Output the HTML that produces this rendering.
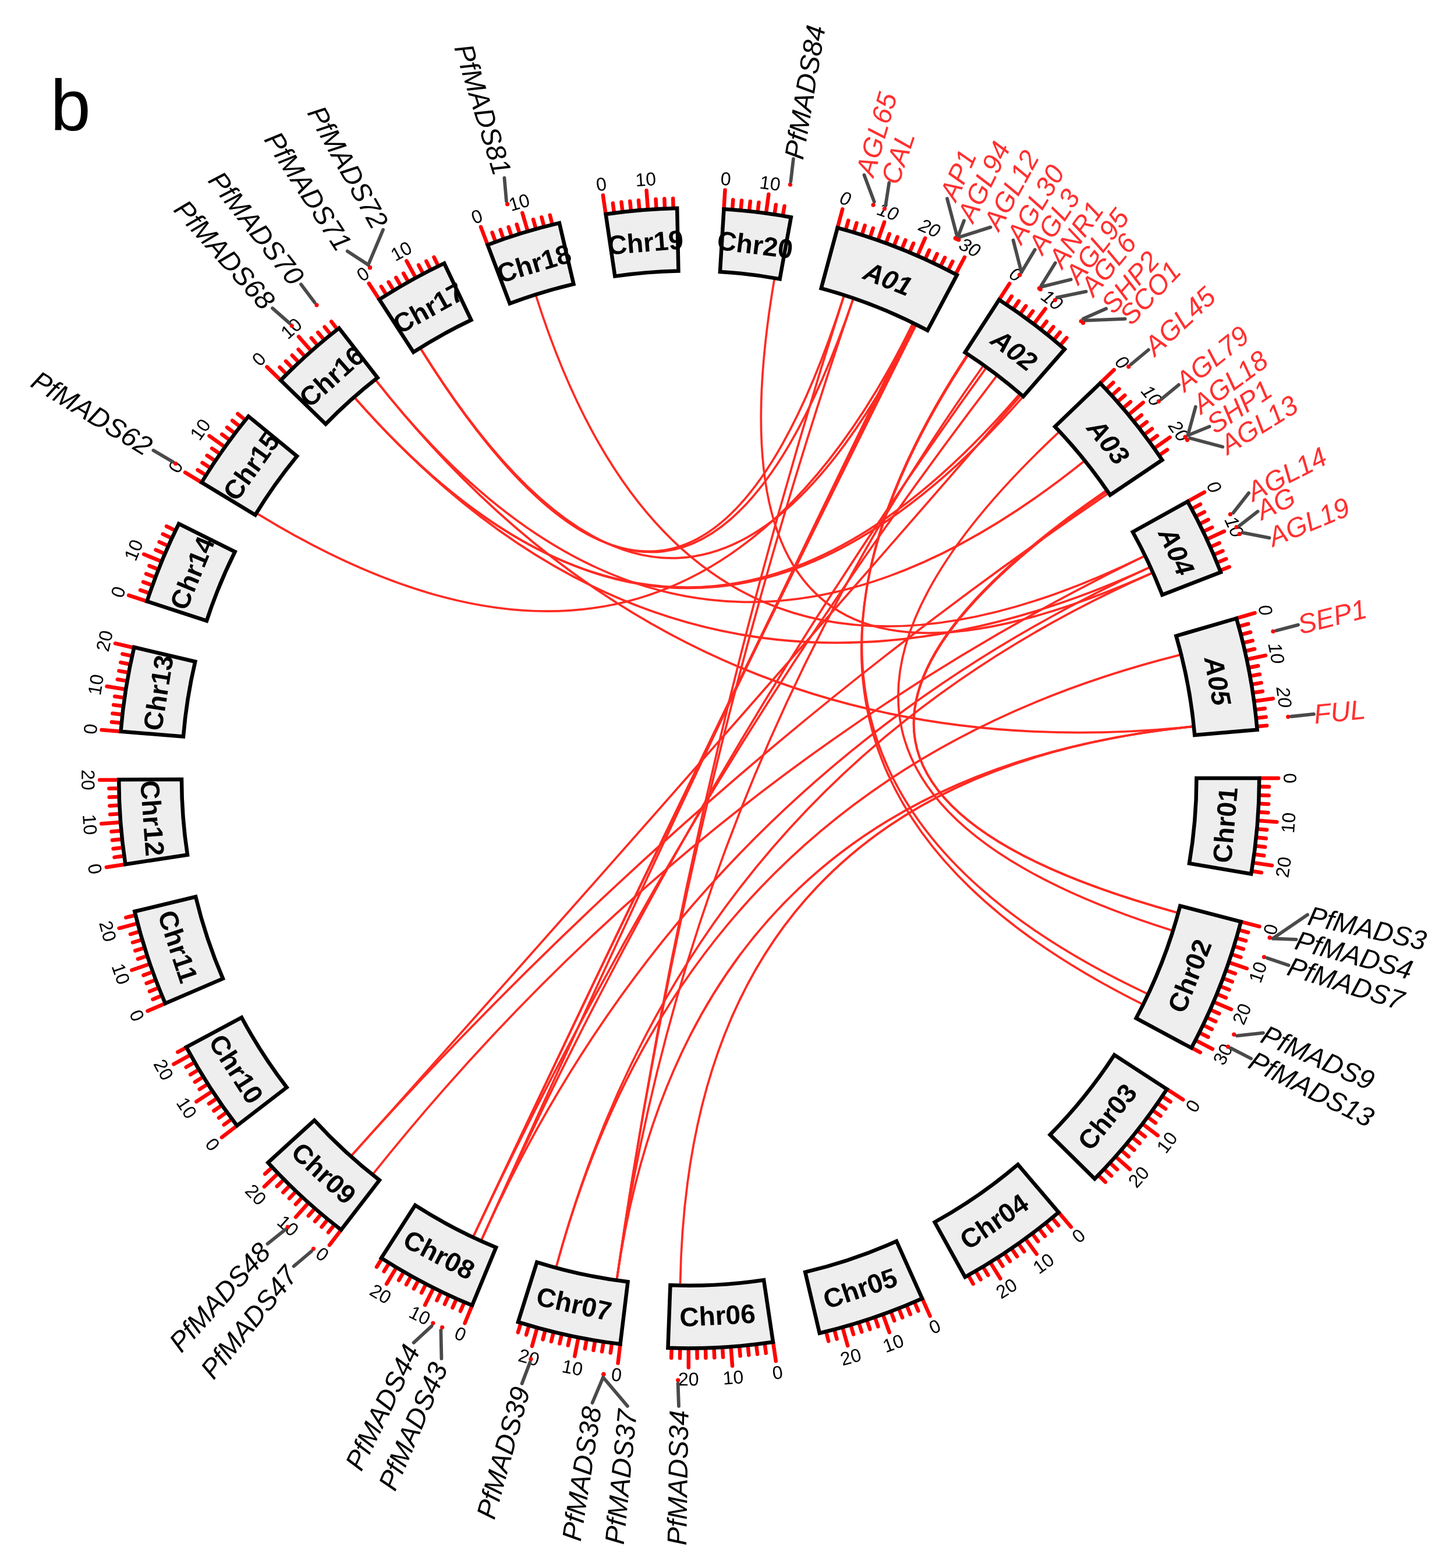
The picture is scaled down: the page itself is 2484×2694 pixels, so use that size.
<!DOCTYPE html>
<html lang="en"><head><meta charset="utf-8"><title>b</title>
<style>html,body{margin:0;padding:0;background:#fff}svg{display:block}</style></head>
<body>
<svg width="2484" height="2694" viewBox="0 0 2484 2694" role="img" aria-label="Circos plot b">
<rect width="2484" height="2694" fill="#fff"/>
<g fill="none" stroke="#ff2a22" stroke-width="3.7" stroke-linecap="butt">
<path d="M1168.54 2205.57Q1183.7 1337 2047.88 1248.46"/>
<path d="M1059.8 2196.82Q1183.7 1337 2047.88 1248.46"/>
<path d="M646.49 654.33Q1183.7 1337 2047.88 1248.46"/>
<path d="M955.94 2175.31Q1183.7 1337 2026.23 1125.37"/>
<path d="M921.03 508.96Q1183.7 1337 1964.48 956.19"/>
<path d="M610.36 684.38Q1183.7 1337 1973.55 975.38"/>
<path d="M1330.07 480.72Q1183.7 1337 1977.91 985.05"/>
<path d="M641.74 2015.91Q1183.7 1337 1964.48 956.19"/>
<path d="M827.6 2129.36Q1183.7 1337 1973.55 975.38"/>
<path d="M955.94 2175.31Q1183.7 1337 1977.91 985.05"/>
<path d="M2012.19 1598.22Q1183.7 1337 1817.99 743.44"/>
<path d="M646.49 654.33Q1183.7 1337 1861.19 793.26"/>
<path d="M2021.21 1567.69Q1183.7 1337 1898.76 843.71"/>
<path d="M2021.21 1567.69Q1183.7 1337 1900.05 845.59"/>
<path d="M604.68 1984.6Q1183.7 1337 1902.18 848.72"/>
<path d="M1969.72 1706.87Q1183.7 1337 1660.64 610.93"/>
<path d="M1961.13 1724.61Q1183.7 1337 1661.9 611.77"/>
<path d="M1059.8 2196.82Q1183.7 1337 1688.16 629.78"/>
<path d="M827.6 2129.36Q1183.7 1337 1693.08 633.32"/>
<path d="M813.83 2123.02Q1183.7 1337 1711.33 646.89"/>
<path d="M610.36 684.38Q1183.7 1337 1750.18 678.41"/>
<path d="M604.68 1984.6Q1183.7 1337 1752.47 680.39"/>
<path d="M610.36 684.38Q1183.7 1337 1755.9 683.38"/>
<path d="M723.36 600.3Q1183.7 1337 1449.26 509.89"/>
<path d="M723.36 600.3Q1183.7 1337 1465.09 515.14"/>
<path d="M1059.8 2196.82Q1183.7 1337 1449.26 509.89"/>
<path d="M1059.8 2196.82Q1183.7 1337 1465.09 515.14"/>
<path d="M443.01 883.11Q1183.7 1337 1567.24 557.55"/>
<path d="M723.36 600.3Q1183.7 1337 1572.67 560.25"/>
<path d="M827.6 2129.36Q1183.7 1337 1567.24 557.55"/>
<path d="M813.83 2123.02Q1183.7 1337 1569.95 558.9"/>
<path d="M813.83 2123.02Q1183.7 1337 1572.67 560.25"/>
</g>
<g stroke="#ff0000" stroke-width="6.5" stroke-linecap="round">
<line x1="2163.2" y1="1337" x2="2196.2" y2="1337"/>
<line x1="2163.09" y1="1351.56" x2="2180.09" y2="1351.82"/>
<line x1="2162.77" y1="1366.13" x2="2179.76" y2="1366.63"/>
<line x1="2162.23" y1="1380.68" x2="2179.21" y2="1381.44"/>
<line x1="2161.47" y1="1395.23" x2="2178.44" y2="1396.24"/>
<line x1="2160.49" y1="1409.76" x2="2193.4" y2="1412.21"/>
<line x1="2159.3" y1="1424.28" x2="2176.24" y2="1425.79"/>
<line x1="2157.9" y1="1438.77" x2="2174.81" y2="1440.54"/>
<line x1="2156.28" y1="1453.25" x2="2173.16" y2="1455.27"/>
<line x1="2154.44" y1="1467.7" x2="2171.29" y2="1469.97"/>
<line x1="2152.39" y1="1482.12" x2="2185.03" y2="1487.01"/>
<line x1="2150.13" y1="1496.51" x2="2166.9" y2="1499.27"/>
<line x1="2131.66" y1="1583.57" x2="2163.59" y2="1591.88"/>
<line x1="2127.89" y1="1597.64" x2="2144.27" y2="1602.16"/>
<line x1="2123.91" y1="1611.65" x2="2140.22" y2="1616.42"/>
<line x1="2119.72" y1="1625.6" x2="2135.96" y2="1630.61"/>
<line x1="2115.32" y1="1639.49" x2="2131.49" y2="1644.74"/>
<line x1="2110.72" y1="1653.31" x2="2141.95" y2="1663.96"/>
<line x1="2105.92" y1="1667.06" x2="2121.92" y2="1672.78"/>
<line x1="2100.91" y1="1680.73" x2="2116.83" y2="1686.7"/>
<line x1="2095.69" y1="1694.33" x2="2111.52" y2="1700.53"/>
<line x1="2090.28" y1="1707.85" x2="2106.01" y2="1714.29"/>
<line x1="2084.67" y1="1721.29" x2="2115.02" y2="1734.24"/>
<line x1="2078.85" y1="1734.65" x2="2094.39" y2="1741.55"/>
<line x1="2072.84" y1="1747.92" x2="2088.27" y2="1755.05"/>
<line x1="2066.63" y1="1761.09" x2="2081.95" y2="1768.45"/>
<line x1="2060.23" y1="1774.17" x2="2075.44" y2="1781.76"/>
<line x1="2053.63" y1="1787.16" x2="2082.94" y2="1802.32"/>
<line x1="2046.84" y1="1800.04" x2="2061.82" y2="1808.08"/>
<line x1="2004.62" y1="1871.33" x2="2032.28" y2="1889.34"/>
<line x1="1996.58" y1="1883.48" x2="2010.69" y2="1892.97"/>
<line x1="1988.37" y1="1895.51" x2="2002.33" y2="1905.2"/>
<line x1="1979.97" y1="1907.41" x2="1993.79" y2="1917.31"/>
<line x1="1971.4" y1="1919.19" x2="1985.07" y2="1929.29"/>
<line x1="1962.66" y1="1930.84" x2="1988.9" y2="1950.84"/>
<line x1="1953.74" y1="1942.35" x2="1967.11" y2="1952.86"/>
<line x1="1944.66" y1="1953.74" x2="1957.86" y2="1964.44"/>
<line x1="1935.4" y1="1964.99" x2="1948.45" y2="1975.88"/>
<line x1="1925.98" y1="1976.09" x2="1938.86" y2="1987.19"/>
<line x1="1916.4" y1="1987.06" x2="1941.08" y2="2008.96"/>
<line x1="1906.65" y1="1997.88" x2="1919.2" y2="2009.35"/>
<line x1="1896.74" y1="2008.56" x2="1909.12" y2="2020.22"/>
<line x1="1886.68" y1="2019.09" x2="1898.88" y2="2030.93"/>
<line x1="1818.53" y1="2082.93" x2="1839.92" y2="2108.06"/>
<line x1="1807.37" y1="2092.28" x2="1818.2" y2="2105.39"/>
<line x1="1796.07" y1="2101.47" x2="1806.7" y2="2114.74"/>
<line x1="1784.64" y1="2110.5" x2="1795.07" y2="2123.92"/>
<line x1="1773.07" y1="2119.35" x2="1783.3" y2="2132.92"/>
<line x1="1761.37" y1="2128.02" x2="1780.83" y2="2154.67"/>
<line x1="1749.54" y1="2136.53" x2="1759.36" y2="2150.4"/>
<line x1="1737.59" y1="2144.85" x2="1747.21" y2="2158.87"/>
<line x1="1725.52" y1="2153" x2="1734.92" y2="2167.16"/>
<line x1="1713.33" y1="2160.96" x2="1722.52" y2="2175.26"/>
<line x1="1701.02" y1="2168.75" x2="1718.44" y2="2196.77"/>
<line x1="1688.59" y1="2176.35" x2="1697.35" y2="2190.92"/>
<line x1="1676.05" y1="2183.76" x2="1684.6" y2="2198.46"/>
<line x1="1663.41" y1="2190.99" x2="1671.73" y2="2205.81"/>
<line x1="1584.13" y1="2230.91" x2="1597.62" y2="2261.03"/>
<line x1="1570.79" y1="2236.77" x2="1577.51" y2="2252.38"/>
<line x1="1557.37" y1="2242.42" x2="1563.85" y2="2258.14"/>
<line x1="1543.86" y1="2247.88" x2="1550.12" y2="2263.69"/>
<line x1="1530.28" y1="2253.13" x2="1536.3" y2="2269.03"/>
<line x1="1516.62" y1="2258.19" x2="1527.84" y2="2289.22"/>
<line x1="1502.88" y1="2263.04" x2="1508.42" y2="2279.11"/>
<line x1="1489.08" y1="2267.68" x2="1494.38" y2="2283.83"/>
<line x1="1475.21" y1="2272.12" x2="1480.27" y2="2288.35"/>
<line x1="1461.27" y1="2276.35" x2="1466.09" y2="2292.65"/>
<line x1="1447.27" y1="2280.37" x2="1456.15" y2="2312.15"/>
<line x1="1433.21" y1="2284.19" x2="1437.55" y2="2300.63"/>
<line x1="1419.1" y1="2287.79" x2="1423.19" y2="2304.29"/>
<line x1="1327.97" y1="2305.82" x2="1332.83" y2="2338.46"/>
<line x1="1313.55" y1="2307.85" x2="1315.8" y2="2324.7"/>
<line x1="1299.1" y1="2309.68" x2="1301.1" y2="2326.56"/>
<line x1="1284.62" y1="2311.29" x2="1286.37" y2="2328.2"/>
<line x1="1270.12" y1="2312.68" x2="1271.62" y2="2329.61"/>
<line x1="1255.61" y1="2313.86" x2="1258.03" y2="2346.77"/>
<line x1="1241.07" y1="2314.82" x2="1242.07" y2="2331.79"/>
<line x1="1226.53" y1="2315.56" x2="1227.27" y2="2332.55"/>
<line x1="1211.97" y1="2316.09" x2="1212.46" y2="2333.08"/>
<line x1="1197.41" y1="2316.4" x2="1197.65" y2="2333.4"/>
<line x1="1182.85" y1="2316.5" x2="1182.82" y2="2349.5"/>
<line x1="1168.28" y1="2316.38" x2="1168.01" y2="2333.38"/>
<line x1="1153.72" y1="2316.04" x2="1153.2" y2="2333.03"/>
<line x1="1065.52" y1="2309.34" x2="1061.54" y2="2342.1"/>
<line x1="1051.07" y1="2307.48" x2="1048.77" y2="2324.32"/>
<line x1="1036.66" y1="2305.4" x2="1034.1" y2="2322.21"/>
<line x1="1022.27" y1="2303.11" x2="1019.47" y2="2319.87"/>
<line x1="1007.92" y1="2300.6" x2="1004.87" y2="2317.32"/>
<line x1="993.62" y1="2297.88" x2="987.21" y2="2330.25"/>
<line x1="979.35" y1="2294.95" x2="975.8" y2="2311.57"/>
<line x1="965.13" y1="2291.8" x2="961.33" y2="2308.37"/>
<line x1="950.95" y1="2288.45" x2="946.91" y2="2304.96"/>
<line x1="936.83" y1="2284.88" x2="932.55" y2="2301.33"/>
<line x1="922.76" y1="2281.1" x2="913.97" y2="2312.91"/>
<line x1="908.75" y1="2277.12" x2="903.98" y2="2293.44"/>
<line x1="894.81" y1="2272.93" x2="889.79" y2="2289.17"/>
<line x1="811.07" y1="2242.85" x2="798.52" y2="2273.37"/>
<line x1="797.65" y1="2237.21" x2="790.95" y2="2252.84"/>
<line x1="784.3" y1="2231.37" x2="777.37" y2="2246.89"/>
<line x1="771.05" y1="2225.33" x2="763.89" y2="2240.75"/>
<line x1="757.88" y1="2219.1" x2="750.49" y2="2234.41"/>
<line x1="744.81" y1="2212.67" x2="730.03" y2="2242.17"/>
<line x1="731.84" y1="2206.05" x2="724" y2="2221.13"/>
<line x1="718.97" y1="2199.23" x2="710.9" y2="2214.2"/>
<line x1="706.2" y1="2192.23" x2="697.91" y2="2207.07"/>
<line x1="693.54" y1="2185.03" x2="685.03" y2="2199.75"/>
<line x1="680.98" y1="2177.65" x2="664.04" y2="2205.97"/>
<line x1="668.54" y1="2170.08" x2="659.59" y2="2184.54"/>
<line x1="656.2" y1="2162.33" x2="647.05" y2="2176.65"/>
<line x1="586.06" y1="2113.05" x2="565.93" y2="2139.19"/>
<line x1="574.59" y1="2104.08" x2="564.02" y2="2117.39"/>
<line x1="563.25" y1="2094.93" x2="552.48" y2="2108.09"/>
<line x1="552.05" y1="2085.62" x2="541.09" y2="2098.62"/>
<line x1="540.99" y1="2076.15" x2="529.83" y2="2088.98"/>
<line x1="530.07" y1="2066.51" x2="508.05" y2="2091.09"/>
<line x1="519.29" y1="2056.71" x2="507.76" y2="2069.2"/>
<line x1="508.66" y1="2046.75" x2="496.95" y2="2059.07"/>
<line x1="498.18" y1="2036.63" x2="486.29" y2="2048.78"/>
<line x1="487.86" y1="2026.36" x2="475.78" y2="2038.33"/>
<line x1="477.68" y1="2015.94" x2="453.9" y2="2038.81"/>
<line x1="467.67" y1="2005.37" x2="455.24" y2="2016.97"/>
<line x1="407.13" y1="1933.96" x2="380.97" y2="1954.07"/>
<line x1="398.34" y1="1922.35" x2="384.71" y2="1932.51"/>
<line x1="389.72" y1="1910.6" x2="375.94" y2="1920.56"/>
<line x1="381.28" y1="1898.73" x2="367.36" y2="1908.48"/>
<line x1="373.02" y1="1886.74" x2="358.95" y2="1896.28"/>
<line x1="364.93" y1="1874.62" x2="337.35" y2="1892.74"/>
<line x1="357.03" y1="1862.39" x2="342.68" y2="1871.51"/>
<line x1="349.31" y1="1850.04" x2="334.83" y2="1858.94"/>
<line x1="341.77" y1="1837.58" x2="327.16" y2="1846.26"/>
<line x1="334.42" y1="1825" x2="319.68" y2="1833.47"/>
<line x1="327.26" y1="1812.32" x2="298.4" y2="1828.33"/>
<line x1="320.29" y1="1799.53" x2="305.3" y2="1807.56"/>
<line x1="283.88" y1="1723.97" x2="253.56" y2="1737"/>
<line x1="278.22" y1="1710.54" x2="262.51" y2="1717.03"/>
<line x1="272.77" y1="1697.04" x2="256.96" y2="1703.29"/>
<line x1="267.52" y1="1683.45" x2="251.62" y2="1689.47"/>
<line x1="262.47" y1="1669.79" x2="246.48" y2="1675.57"/>
<line x1="257.62" y1="1656.06" x2="226.42" y2="1666.8"/>
<line x1="252.98" y1="1642.25" x2="236.82" y2="1647.55"/>
<line x1="248.54" y1="1628.38" x2="232.31" y2="1633.43"/>
<line x1="244.31" y1="1614.44" x2="228.01" y2="1619.25"/>
<line x1="240.29" y1="1600.44" x2="223.92" y2="1605.01"/>
<line x1="236.48" y1="1586.38" x2="204.57" y2="1594.78"/>
<line x1="232.87" y1="1572.27" x2="216.37" y2="1576.35"/>
<line x1="215.44" y1="1484.99" x2="182.82" y2="1489.98"/>
<line x1="213.35" y1="1470.58" x2="196.51" y2="1472.9"/>
<line x1="211.47" y1="1456.13" x2="194.6" y2="1458.2"/>
<line x1="209.81" y1="1441.66" x2="192.91" y2="1443.48"/>
<line x1="208.36" y1="1427.17" x2="191.43" y2="1428.74"/>
<line x1="207.13" y1="1412.66" x2="174.22" y2="1415.21"/>
<line x1="206.11" y1="1398.13" x2="189.14" y2="1399.19"/>
<line x1="205.31" y1="1383.58" x2="188.33" y2="1384.39"/>
<line x1="204.72" y1="1369.03" x2="187.73" y2="1369.59"/>
<line x1="204.36" y1="1354.47" x2="187.36" y2="1354.77"/>
<line x1="204.2" y1="1339.91" x2="171.2" y2="1340"/>
<line x1="207.49" y1="1256.74" x2="174.6" y2="1254.04"/>
<line x1="208.8" y1="1242.23" x2="191.87" y2="1240.59"/>
<line x1="210.31" y1="1227.75" x2="193.42" y2="1225.85"/>
<line x1="212.04" y1="1213.29" x2="195.18" y2="1211.14"/>
<line x1="213.99" y1="1198.85" x2="197.16" y2="1196.45"/>
<line x1="216.15" y1="1184.45" x2="183.56" y2="1179.31"/>
<line x1="218.53" y1="1170.08" x2="201.78" y2="1167.18"/>
<line x1="221.12" y1="1155.74" x2="204.41" y2="1152.6"/>
<line x1="223.92" y1="1141.45" x2="207.26" y2="1138.06"/>
<line x1="226.93" y1="1127.2" x2="210.33" y2="1123.56"/>
<line x1="230.16" y1="1113" x2="198.03" y2="1105.45"/>
<line x1="252.51" y1="1033.18" x2="221.14" y2="1022.94"/>
<line x1="257.13" y1="1019.37" x2="241.05" y2="1013.85"/>
<line x1="261.96" y1="1005.62" x2="245.96" y2="999.87"/>
<line x1="266.99" y1="991.96" x2="251.08" y2="985.97"/>
<line x1="272.22" y1="978.36" x2="256.4" y2="972.14"/>
<line x1="277.65" y1="964.85" x2="247.13" y2="952.31"/>
<line x1="283.29" y1="951.42" x2="267.66" y2="944.72"/>
<line x1="289.12" y1="938.07" x2="273.59" y2="931.15"/>
<line x1="295.15" y1="924.81" x2="279.73" y2="917.66"/>
<line x1="301.38" y1="911.65" x2="286.06" y2="904.26"/>
<line x1="346.31" y1="828.86" x2="318.1" y2="811.74"/>
<line x1="353.96" y1="816.47" x2="339.56" y2="807.43"/>
<line x1="361.79" y1="804.19" x2="347.53" y2="794.94"/>
<line x1="369.81" y1="792.02" x2="355.68" y2="782.56"/>
<line x1="378" y1="779.98" x2="364.02" y2="770.31"/>
<line x1="386.37" y1="768.06" x2="359.51" y2="748.89"/>
<line x1="394.92" y1="756.27" x2="381.23" y2="746.19"/>
<line x1="403.64" y1="744.6" x2="390.11" y2="734.32"/>
<line x1="412.54" y1="733.07" x2="399.15" y2="722.59"/>
<line x1="421.6" y1="721.67" x2="408.38" y2="710.99"/>
<line x1="482.2" y1="653.39" x2="458.57" y2="630.36"/>
<line x1="492.44" y1="643.04" x2="480.45" y2="630.99"/>
<line x1="502.84" y1="632.83" x2="491.02" y2="620.61"/>
<line x1="513.39" y1="622.79" x2="501.75" y2="610.39"/>
<line x1="524.08" y1="612.9" x2="512.63" y2="600.33"/>
<line x1="534.92" y1="603.17" x2="513.06" y2="578.45"/>
<line x1="545.9" y1="593.61" x2="534.83" y2="580.7"/>
<line x1="557.03" y1="584.2" x2="546.15" y2="571.14"/>
<line x1="568.29" y1="574.97" x2="557.61" y2="561.74"/>
<line x1="579.69" y1="565.9" x2="569.21" y2="552.52"/>
<line x1="651.66" y1="514.59" x2="633.74" y2="486.88"/>
<line x1="663.95" y1="506.77" x2="654.93" y2="492.36"/>
<line x1="676.35" y1="499.14" x2="667.55" y2="484.59"/>
<line x1="688.87" y1="491.68" x2="680.28" y2="477.01"/>
<line x1="701.49" y1="484.42" x2="693.12" y2="469.62"/>
<line x1="714.22" y1="477.34" x2="698.4" y2="448.38"/>
<line x1="727.06" y1="470.46" x2="719.13" y2="455.42"/>
<line x1="739.99" y1="463.76" x2="732.29" y2="448.61"/>
<line x1="753.03" y1="457.26" x2="745.55" y2="441.99"/>
<line x1="837.63" y1="420.67" x2="825.97" y2="389.8"/>
<line x1="851.3" y1="415.63" x2="845.53" y2="399.64"/>
<line x1="865.03" y1="410.79" x2="859.5" y2="394.71"/>
<line x1="878.84" y1="406.15" x2="873.55" y2="389.99"/>
<line x1="892.72" y1="401.72" x2="887.66" y2="385.49"/>
<line x1="906.65" y1="397.5" x2="897.32" y2="365.84"/>
<line x1="920.66" y1="393.48" x2="916.09" y2="377.11"/>
<line x1="934.71" y1="389.67" x2="930.39" y2="373.23"/>
<line x1="948.83" y1="386.08" x2="944.75" y2="369.57"/>
<line x1="1040.61" y1="368.01" x2="1035.79" y2="335.36"/>
<line x1="1055.04" y1="365.99" x2="1052.8" y2="349.13"/>
<line x1="1069.49" y1="364.18" x2="1067.51" y2="347.3"/>
<line x1="1083.97" y1="362.59" x2="1082.24" y2="345.68"/>
<line x1="1098.47" y1="361.22" x2="1096.99" y2="344.28"/>
<line x1="1112.99" y1="360.06" x2="1110.6" y2="327.14"/>
<line x1="1127.52" y1="359.11" x2="1126.55" y2="342.14"/>
<line x1="1142.07" y1="358.39" x2="1141.35" y2="341.4"/>
<line x1="1156.62" y1="357.87" x2="1156.15" y2="340.88"/>
<line x1="1243.5" y1="359.33" x2="1245.51" y2="326.39"/>
<line x1="1258.03" y1="360.32" x2="1259.32" y2="343.37"/>
<line x1="1272.54" y1="361.54" x2="1274.08" y2="344.61"/>
<line x1="1287.04" y1="362.97" x2="1288.83" y2="346.06"/>
<line x1="1301.51" y1="364.61" x2="1303.55" y2="347.73"/>
<line x1="1315.96" y1="366.47" x2="1320.41" y2="333.77"/>
<line x1="1330.37" y1="368.54" x2="1332.92" y2="351.74"/>
<line x1="1344.76" y1="370.83" x2="1347.55" y2="354.06"/>
<line x1="1438.7" y1="391.28" x2="1447.29" y2="359.41"/>
<line x1="1452.73" y1="395.17" x2="1457.4" y2="378.83"/>
<line x1="1466.71" y1="399.28" x2="1471.62" y2="383"/>
<line x1="1480.62" y1="403.59" x2="1485.77" y2="387.39"/>
<line x1="1494.47" y1="408.11" x2="1499.86" y2="391.98"/>
<line x1="1508.25" y1="412.83" x2="1519.18" y2="381.69"/>
<line x1="1521.95" y1="417.76" x2="1527.82" y2="401.8"/>
<line x1="1535.58" y1="422.89" x2="1541.69" y2="407.02"/>
<line x1="1549.14" y1="428.22" x2="1555.48" y2="412.45"/>
<line x1="1562.61" y1="433.76" x2="1569.19" y2="418.08"/>
<line x1="1576" y1="439.49" x2="1589.22" y2="409.25"/>
<line x1="1589.3" y1="445.42" x2="1596.34" y2="429.95"/>
<line x1="1602.51" y1="451.55" x2="1609.78" y2="436.19"/>
<line x1="1615.63" y1="457.88" x2="1623.13" y2="442.62"/>
<line x1="1628.66" y1="464.4" x2="1636.38" y2="449.25"/>
<line x1="1641.58" y1="471.11" x2="1657.01" y2="441.94"/>
<line x1="1716.31" y1="514.96" x2="1734.26" y2="487.27"/>
<line x1="1728.48" y1="522.97" x2="1737.93" y2="508.85"/>
<line x1="1740.52" y1="531.17" x2="1750.19" y2="517.18"/>
<line x1="1752.44" y1="539.53" x2="1762.31" y2="525.69"/>
<line x1="1764.24" y1="548.08" x2="1774.31" y2="534.39"/>
<line x1="1775.9" y1="556.8" x2="1795.86" y2="530.51"/>
<line x1="1787.44" y1="565.69" x2="1797.92" y2="552.3"/>
<line x1="1798.84" y1="574.75" x2="1809.52" y2="561.52"/>
<line x1="1810.11" y1="583.99" x2="1820.98" y2="570.92"/>
<line x1="1821.24" y1="593.38" x2="1832.3" y2="580.48"/>
<line x1="1889.95" y1="658.31" x2="1913.75" y2="635.44"/>
<line x1="1899.97" y1="668.88" x2="1912.4" y2="657.29"/>
<line x1="1909.82" y1="679.61" x2="1922.43" y2="668.2"/>
<line x1="1919.52" y1="690.48" x2="1932.29" y2="679.26"/>
<line x1="1929.05" y1="701.49" x2="1941.99" y2="690.46"/>
<line x1="1938.42" y1="712.64" x2="1963.84" y2="691.61"/>
<line x1="1947.62" y1="723.93" x2="1960.88" y2="713.29"/>
<line x1="1956.65" y1="735.36" x2="1970.07" y2="724.92"/>
<line x1="1965.51" y1="746.92" x2="1979.08" y2="736.68"/>
<line x1="1974.2" y1="758.61" x2="1987.92" y2="748.57"/>
<line x1="1982.71" y1="770.43" x2="2009.63" y2="751.34"/>
<line x1="1991.05" y1="782.37" x2="2005.06" y2="772.75"/>
<line x1="2040.14" y1="861.68" x2="2069" y2="845.67"/>
<line x1="2047.11" y1="874.47" x2="2062.1" y2="866.44"/>
<line x1="2053.9" y1="887.36" x2="2069" y2="879.55"/>
<line x1="2060.49" y1="900.35" x2="2075.7" y2="892.77"/>
<line x1="2066.88" y1="913.43" x2="2082.21" y2="906.08"/>
<line x1="2073.08" y1="926.61" x2="2103.05" y2="912.79"/>
<line x1="2079.09" y1="939.88" x2="2094.63" y2="932.99"/>
<line x1="2084.89" y1="953.24" x2="2100.53" y2="946.58"/>
<line x1="2090.5" y1="966.68" x2="2106.24" y2="960.26"/>
<line x1="2095.91" y1="980.21" x2="2111.74" y2="974.02"/>
<line x1="2123.93" y1="1062.42" x2="2155.6" y2="1053.16"/>
<line x1="2127.9" y1="1076.43" x2="2144.29" y2="1071.9"/>
<line x1="2131.67" y1="1090.5" x2="2148.13" y2="1086.22"/>
<line x1="2135.24" y1="1104.62" x2="2151.75" y2="1100.59"/>
<line x1="2138.59" y1="1118.79" x2="2155.16" y2="1115.01"/>
<line x1="2141.72" y1="1133.02" x2="2174" y2="1126.14"/>
<line x1="2144.65" y1="1147.28" x2="2161.33" y2="1143.99"/>
<line x1="2147.37" y1="1161.59" x2="2164.09" y2="1158.55"/>
<line x1="2149.87" y1="1175.94" x2="2166.64" y2="1173.15"/>
<line x1="2152.16" y1="1190.33" x2="2168.96" y2="1187.78"/>
<line x1="2154.23" y1="1204.74" x2="2186.93" y2="1200.29"/>
<line x1="2156.09" y1="1219.19" x2="2172.97" y2="1217.15"/>
<line x1="2157.73" y1="1233.66" x2="2174.64" y2="1231.87"/>
<line x1="2159.16" y1="1248.16" x2="2176.09" y2="1246.62"/>
</g>
<g fill="#eeeeee" stroke="#000" stroke-width="6.5" stroke-linejoin="miter">
<path d="M2163.2 1337A979.5 979.5 0 0 1 2149.28 1501.53L2043.01 1483.42A871.7 871.7 0 0 0 2055.4 1337Z"/>
<path d="M2131.66 1583.57A979.5 979.5 0 0 1 2046.61 1800.47L1951.64 1749.46A871.7 871.7 0 0 0 2027.33 1556.43Z"/>
<path d="M2004.62 1871.33A979.5 979.5 0 0 1 1880.53 2025.37L1803.84 1949.61A871.7 871.7 0 0 0 1914.27 1812.53Z"/>
<path d="M1818.53 2082.93A979.5 979.5 0 0 1 1657.82 2194.1L1605.64 2099.77A871.7 871.7 0 0 0 1748.67 2000.83Z"/>
<path d="M1584.13 2230.91A979.5 979.5 0 0 1 1407.87 2290.5L1383.2 2185.56A871.7 871.7 0 0 0 1540.06 2132.53Z"/>
<path d="M1327.97 2305.82A979.5 979.5 0 0 1 1147.47 2315.83L1151.45 2208.1A871.7 871.7 0 0 0 1312.09 2199.19Z"/>
<path d="M1065.52 2309.34A979.5 979.5 0 0 1 889.97 2271.42L922.3 2168.58A871.7 871.7 0 0 0 1078.52 2202.33Z"/>
<path d="M811.07 2242.85A979.5 979.5 0 0 1 654.97 2161.54L713.16 2070.79A871.7 871.7 0 0 0 852.08 2143.16Z"/>
<path d="M586.06 2113.05A979.5 979.5 0 0 1 460.38 1997.48L539.99 1924.79A871.7 871.7 0 0 0 651.84 2027.64Z"/>
<path d="M407.13 1933.96A979.5 979.5 0 0 1 320.06 1799.11L415.11 1748.25A871.7 871.7 0 0 0 492.6 1868.26Z"/>
<path d="M283.88 1723.97A979.5 979.5 0 0 1 231.34 1565.99L336.16 1540.79A871.7 871.7 0 0 0 382.91 1681.38Z"/>
<path d="M215.44 1484.99A979.5 979.5 0 0 1 204.2 1339.39L312 1339.13A871.7 871.7 0 0 0 322.01 1468.7Z"/>
<path d="M207.49 1256.74A979.5 979.5 0 0 1 230.39 1112L335.31 1136.76A871.7 871.7 0 0 0 314.93 1265.57Z"/>
<path d="M252.51 1033.18A979.5 979.5 0 0 1 307.11 899.95L403.59 948.05A871.7 871.7 0 0 0 354.99 1066.62Z"/>
<path d="M346.31 828.86A979.5 979.5 0 0 1 426.81 715.28L510.11 783.71A871.7 871.7 0 0 0 438.47 884.79Z"/>
<path d="M482.2 653.39A979.5 979.5 0 0 1 582.41 563.78L648.59 648.88A871.7 871.7 0 0 0 559.41 728.63Z"/>
<path d="M651.66 514.59A979.5 979.5 0 0 1 763.09 452.4L809.38 549.76A871.7 871.7 0 0 0 710.21 605.1Z"/>
<path d="M837.63 420.67A979.5 979.5 0 0 1 960.86 383.18L985.39 488.16A871.7 871.7 0 0 0 875.72 521.52Z"/>
<path d="M1040.61 368.01A979.5 979.5 0 0 1 1163.19 357.71L1165.44 465.49A871.7 871.7 0 0 0 1056.36 474.65Z"/>
<path d="M1243.5 359.33A979.5 979.5 0 0 1 1358.84 373.28L1339.56 479.35A871.7 871.7 0 0 0 1236.92 466.93Z"/>
<path d="M1438.7 391.28A979.5 979.5 0 0 1 1644 472.39L1593.34 567.55A871.7 871.7 0 0 0 1410.63 495.36Z"/>
<path d="M1716.31 514.96A979.5 979.5 0 0 1 1828.89 600.01L1757.88 681.12A871.7 871.7 0 0 0 1657.7 605.43Z"/>
<path d="M1889.95 658.31A979.5 979.5 0 0 1 1996.41 790.26L1906.97 850.43A871.7 871.7 0 0 0 1812.23 733Z"/>
<path d="M2040.14 861.68A979.5 979.5 0 0 1 2097.03 983.11L1996.52 1022.06A871.7 871.7 0 0 0 1945.88 913.99Z"/>
<path d="M2123.93 1062.42A979.5 979.5 0 0 1 2159.66 1253.85L2052.25 1263A871.7 871.7 0 0 0 2020.45 1092.63Z"/>
</g>
<g font-family="'Liberation Sans',Arial,sans-serif" font-size="32" fill="#000" text-anchor="middle">
<text transform="translate(2215.7 1337) rotate(-90)" y="11.46">0</text>
<text transform="translate(2212.85 1413.66) rotate(-85.74)" y="11.46">10</text>
<text transform="translate(2204.31 1489.9) rotate(-81.48)" y="11.46">20</text>
<text transform="translate(2182.47 1596.79) rotate(-75.42)" y="11.46">0</text>
<text transform="translate(2160.41 1670.26) rotate(-71.16)" y="11.46">10</text>
<text transform="translate(2132.96 1741.89) rotate(-66.9)" y="11.46">20</text>
<text transform="translate(2100.26 1811.29) rotate(-62.64)" y="11.46">30</text>
<text transform="translate(2048.62 1899.97) rotate(-56.94)" y="11.46">0</text>
<text transform="translate(2004.41 1962.67) rotate(-52.68)" y="11.46">10</text>
<text transform="translate(1955.67 2021.9) rotate(-48.42)" y="11.46">20</text>
<text transform="translate(1852.56 2122.91) rotate(-40.4)" y="11.46">0</text>
<text transform="translate(1792.33 2170.42) rotate(-36.14)" y="11.46">10</text>
<text transform="translate(1728.74 2213.33) rotate(-31.88)" y="11.46">20</text>
<text transform="translate(1605.59 2278.82) rotate(-24.13)" y="11.46">0</text>
<text transform="translate(1534.46 2307.56) rotate(-19.87)" y="11.46">10</text>
<text transform="translate(1461.4 2330.94) rotate(-15.61)" y="11.46">20</text>
<text transform="translate(1335.7 2357.74) rotate(-8.47)" y="11.46">0</text>
<text transform="translate(1259.46 2366.22) rotate(-4.21)" y="11.46">10</text>
<text transform="translate(1182.8 2369) rotate(0.05)" y="11.46">20</text>
<text transform="translate(1059.18 2361.46) rotate(6.93)" y="11.46">0</text>
<text transform="translate(983.43 2349.38) rotate(11.19)" y="11.46">10</text>
<text transform="translate(908.78 2331.71) rotate(15.45)" y="11.46">20</text>
<text transform="translate(791.1 2291.41) rotate(22.36)" y="11.46">0</text>
<text transform="translate(721.29 2259.61) rotate(26.62)" y="11.46">10</text>
<text transform="translate(654.03 2222.71) rotate(30.88)" y="11.46">20</text>
<text transform="translate(554.03 2154.64) rotate(37.6)" y="11.46">0</text>
<text transform="translate(495.03 2105.61) rotate(41.86)" y="11.46">10</text>
<text transform="translate(439.84 2052.33) rotate(46.12)" y="11.46">20</text>
<text transform="translate(365.51 1965.96) rotate(52.45)" y="11.46">0</text>
<text transform="translate(321.05 1903.44) rotate(56.71)" y="11.46">10</text>
<text transform="translate(281.35 1837.8) rotate(60.97)" y="11.46">20</text>
<text transform="translate(235.65 1744.71) rotate(66.73)" y="11.46">0</text>
<text transform="translate(207.98 1673.16) rotate(70.99)" y="11.46">10</text>
<text transform="translate(185.71 1599.75) rotate(75.25)" y="11.46">20</text>
<text transform="translate(163.55 1492.92) rotate(81.31)" y="11.46">0</text>
<text transform="translate(154.78 1416.71) rotate(85.57)" y="11.46">10</text>
<text transform="translate(151.7 1340.06) rotate(89.83)" y="11.46">20</text>
<text transform="translate(155.17 1252.44) rotate(274.7)" y="11.46">0</text>
<text transform="translate(164.29 1176.27) rotate(278.96)" y="11.46">10</text>
<text transform="translate(179.05 1100.99) rotate(283.22)" y="11.46">20</text>
<text transform="translate(202.6 1016.9) rotate(288.07)" y="11.46">0</text>
<text transform="translate(229.09 944.9) rotate(292.33)" y="11.46">10</text>
<text transform="translate(301.43 801.63) rotate(301.25)" y="11.46">0</text>
<text transform="translate(343.64 737.57) rotate(305.51)" y="11.46">10</text>
<text transform="translate(444.6 616.75) rotate(314.26)" y="11.46">0</text>
<text transform="translate(500.15 563.84) rotate(318.52)" y="11.46">10</text>
<text transform="translate(623.14 470.51) rotate(327.1)" y="11.46">0</text>
<text transform="translate(689.06 431.27) rotate(331.36)" y="11.46">10</text>
<text transform="translate(819.08 371.56) rotate(339.31)" y="11.46">0</text>
<text transform="translate(891.81 347.14) rotate(343.57)" y="11.46">10</text>
<text transform="translate(1032.94 316.07) rotate(351.6)" y="11.46">0</text>
<text transform="translate(1109.2 307.69) rotate(355.86)" y="11.46">10</text>
<text transform="translate(1246.7 306.92) rotate(363.5)" y="11.46">0</text>
<text transform="translate(1323.04 314.45) rotate(367.76)" y="11.46">10</text>
<text font-style="italic" transform="translate(1452.37 340.59) rotate(375.09)" y="11.46">0</text>
<text font-style="italic" transform="translate(1525.64 363.3) rotate(379.35)" y="11.46">10</text>
<text font-style="italic" transform="translate(1597.03 391.39) rotate(383.61)" y="11.46">20</text>
<text font-style="italic" transform="translate(1666.13 424.7) rotate(387.87)" y="11.46">30</text>
<text font-style="italic" transform="translate(1744.86 470.9) rotate(392.94)" y="11.46">0</text>
<text font-style="italic" transform="translate(1807.65 514.98) rotate(397.2)" y="11.46">10</text>
<text font-style="italic" transform="translate(1927.81 621.93) rotate(406.14)" y="11.46">0</text>
<text font-style="italic" transform="translate(1978.87 679.18) rotate(410.4)" y="11.46">10</text>
<text font-style="italic" transform="translate(2025.54 740.06) rotate(414.66)" y="11.46">20</text>
<text font-style="italic" transform="translate(2086.05 836.2) rotate(420.97)" y="11.46">0</text>
<text font-style="italic" transform="translate(2120.75 904.62) rotate(425.23)" y="11.46">10</text>
<text font-style="italic" transform="translate(2174.32 1047.7) rotate(433.72)" y="11.46">0</text>
<text font-style="italic" transform="translate(2193.07 1122.08) rotate(437.98)" y="11.46">10</text>
<text font-style="italic" transform="translate(2206.25 1197.66) rotate(442.24)" y="11.46">20</text>
</g>
<g font-family="'Liberation Sans',Arial,sans-serif" font-weight="bold" font-size="46" fill="#000" text-anchor="middle">
<text transform="translate(2104.2 1417.29) rotate(-85.02)" y="16.47">Chr01</text>
<text transform="translate(2043.05 1676.55) rotate(-68.44)" y="16.47">Chr02</text>
<text transform="translate(1901.73 1918.55) rotate(-50.99)" y="16.47">Chr03</text>
<text transform="translate(1707.39 2098.26) rotate(-34.52)" y="16.47">Chr04</text>
<text transform="translate(1477.35 2213.1) rotate(-18.53)" y="16.47">Chr05</text>
<text transform="translate(1232.46 2259.71) rotate(-3.02)" y="16.47">Chr06</text>
<text transform="translate(986.23 2239.65) rotate(12.34)" y="16.47">Chr07</text>
<text transform="translate(754.69 2155.37) rotate(27.67)" y="16.47">Chr08</text>
<text transform="translate(556.49 2015.51) rotate(42.75)" y="16.47">Chr09</text>
<text transform="translate(406.14 1836.18) rotate(57.3)" y="16.47">Chr10</text>
<text transform="translate(306.15 1626.29) rotate(71.75)" y="16.47">Chr11</text>
<text transform="translate(262.26 1405.72) rotate(85.74)" y="16.47">Chr12</text>
<text transform="translate(271.43 1190.23) rotate(279.14)" y="16.47">Chr13</text>
<text transform="translate(329.63 984.37) rotate(292.44)" y="16.47">Chr14</text>
<text transform="translate(431.22 800.76) rotate(305.48)" y="16.47">Chr15</text>
<text transform="translate(569.57 646.62) rotate(318.35)" y="16.47">Chr16</text>
<text transform="translate(735.52 528.97) rotate(330.99)" y="16.47">Chr17</text>
<text transform="translate(917.1 452.3) rotate(343.23)" y="16.47">Chr18</text>
<text transform="translate(1108.79 416.04) rotate(355.35)" y="16.47">Chr19</text>
<text transform="translate(1297.11 419.99) rotate(367.05)" y="16.47">Chr20</text>
<text font-style="italic" transform="translate(1525.5 478.54) rotate(381.71)" y="16.47">A01</text>
<text font-style="italic" transform="translate(1742.61 601.2) rotate(397.22)" y="16.47">A02</text>
<text font-style="italic" transform="translate(1904.36 758.71) rotate(411.25)" y="16.47">A03</text>
<text font-style="italic" transform="translate(2021.43 947.16) rotate(425.04)" y="16.47">A04</text>
<text font-style="italic" transform="translate(2092.45 1169.8) rotate(439.57)" y="16.47">A05</text>
</g>
<g fill="#ff0000">
<circle cx="2181.25" cy="1611.02" r="3.6"/>
<circle cx="2181.25" cy="1611.02" r="3.6"/>
<circle cx="2171.51" cy="1644.29" r="3.6"/>
<circle cx="2119.82" cy="1777.31" r="3.6"/>
<circle cx="2109.59" cy="1798.43" r="3.6"/>
<circle cx="1164.74" cy="2371.33" r="3.6"/>
<circle cx="1036.87" cy="2361.03" r="3.6"/>
<circle cx="1036.87" cy="2361.03" r="3.6"/>
<circle cx="911.94" cy="2335.17" r="3.6"/>
<circle cx="759.63" cy="2280.59" r="3.6"/>
<circle cx="743.88" cy="2273.35" r="3.6"/>
<circle cx="538.44" cy="2145.6" r="3.6"/>
<circle cx="494.17" cy="2108.19" r="3.6"/>
<circle cx="301.64" cy="796.48" r="3.6"/>
<circle cx="501.2" cy="559.58" r="3.6"/>
<circle cx="543.96" cy="524.03" r="3.6"/>
<circle cx="635.5" cy="459.69" r="3.6"/>
<circle cx="635.5" cy="459.69" r="3.6"/>
<circle cx="871.59" cy="350.71" r="3.6"/>
<circle cx="1357.47" cy="317.2" r="3.6"/>
<circle cx="1500.11" cy="352.08" r="3.6"/>
<circle cx="1519.48" cy="358.51" r="3.6"/>
<circle cx="1641.25" cy="409.19" r="3.6"/>
<circle cx="1643.68" cy="410.39" r="3.6"/>
<circle cx="1646.91" cy="412" r="3.6"/>
<circle cx="1751.66" cy="472.36" r="3.6"/>
<circle cx="1751.66" cy="472.36" r="3.6"/>
<circle cx="1785.32" cy="495.43" r="3.6"/>
<circle cx="1787.37" cy="496.9" r="3.6"/>
<circle cx="1812.46" cy="515.51" r="3.6"/>
<circle cx="1857.2" cy="551.77" r="3.6"/>
<circle cx="1860.62" cy="554.72" r="3.6"/>
<circle cx="1938.81" cy="629.89" r="3.6"/>
<circle cx="1990.49" cy="689.48" r="3.6"/>
<circle cx="2036.05" cy="750.76" r="3.6"/>
<circle cx="2036.26" cy="751.05" r="3.6"/>
<circle cx="2039.52" cy="755.82" r="3.6"/>
<circle cx="2113.5" cy="883.51" r="3.6"/>
<circle cx="2124" cy="905.7" r="3.6"/>
<circle cx="2129.28" cy="917.39" r="3.6"/>
<circle cx="2186.99" cy="1084.81" r="3.6"/>
<circle cx="2212.81" cy="1231.56" r="3.6"/>
</g>
<g stroke="#4a4a4a" stroke-width="5.8" stroke-linecap="round">
<line x1="2186.55" y1="1612.48" x2="2246.12" y2="1571.56"/>
<line x1="2186.55" y1="1612.48" x2="2226.52" y2="1614.08"/>
<line x1="2176.76" y1="1645.92" x2="2213.72" y2="1658.41"/>
<line x1="2124.8" y1="1779.65" x2="2169.95" y2="1774.66"/>
<line x1="2114.51" y1="1800.88" x2="2149.17" y2="1818.78"/>
<line x1="1164.64" y1="2376.83" x2="1166" y2="2415.85"/>
<line x1="1036.08" y1="2366.47" x2="1077.92" y2="2415.83"/>
<line x1="1036.08" y1="2366.47" x2="1017.56" y2="2410.22"/>
<line x1="910.5" y1="2340.47" x2="896.62" y2="2377.11"/>
<line x1="757.38" y1="2285.6" x2="758.41" y2="2334.09"/>
<line x1="741.55" y1="2278.33" x2="710.7" y2="2306.8"/>
<line x1="535.01" y1="2149.89" x2="504.66" y2="2175.54"/>
<line x1="490.51" y1="2112.3" x2="459.61" y2="2136.96"/>
<line x1="296.95" y1="793.6" x2="263.41" y2="773.71"/>
<line x1="497.57" y1="555.45" x2="468.03" y2="529.5"/>
<line x1="540.56" y1="519.71" x2="517.03" y2="488.59"/>
<line x1="632.58" y1="455.03" x2="596.82" y2="431.56"/>
<line x1="632.58" y1="455.03" x2="658.12" y2="394.66"/>
<line x1="869.93" y1="345.46" x2="866.43" y2="305.7"/>
<line x1="1358.39" y1="311.78" x2="1362.9" y2="272.98"/>
<line x1="1501.8" y1="346.84" x2="1484.55" y2="300.79"/>
<line x1="1521.26" y1="353.31" x2="1527.32" y2="314.18"/>
<line x1="1643.68" y1="404.25" x2="1627.04" y2="341.24"/>
<line x1="1646.12" y1="405.46" x2="1656.06" y2="379.14"/>
<line x1="1649.37" y1="407.08" x2="1701.53" y2="390.38"/>
<line x1="1754.68" y1="467.76" x2="1740.56" y2="412.8"/>
<line x1="1754.68" y1="467.76" x2="1777.81" y2="429.11"/>
<line x1="1788.52" y1="490.95" x2="1812.8" y2="451.77"/>
<line x1="1790.58" y1="492.43" x2="1839.66" y2="480.28"/>
<line x1="1815.8" y1="511.14" x2="1865.66" y2="500.83"/>
<line x1="1860.78" y1="547.59" x2="1900.22" y2="530.25"/>
<line x1="1864.22" y1="550.56" x2="1932.63" y2="547.79"/>
<line x1="1942.82" y1="626.13" x2="1972.83" y2="601.12"/>
<line x1="1994.78" y1="686.04" x2="2024.84" y2="661.19"/>
<line x1="2040.59" y1="747.64" x2="2053.85" y2="698.98"/>
<line x1="2040.79" y1="747.94" x2="2077.7" y2="732.85"/>
<line x1="2044.07" y1="752.73" x2="2100.34" y2="767.77"/>
<line x1="2118.45" y1="881.09" x2="2145.1" y2="847.14"/>
<line x1="2129" y1="903.41" x2="2160.57" y2="878.78"/>
<line x1="2134.3" y1="915.15" x2="2180.57" y2="924.08"/>
<line x1="2192.32" y1="1083.46" x2="2230.05" y2="1073.59"/>
<line x1="2218.28" y1="1231" x2="2257.06" y2="1226.84"/>
</g>
<g font-family="'Liberation Sans',Arial,sans-serif" font-style="italic" font-size="47">
<text transform="translate(2248.07 1571.99) rotate(12.45)" y="16.83" text-anchor="start" fill="#000">PfMADS3</text>
<text transform="translate(2226.52 1614.08) rotate(14.88)" y="16.83" text-anchor="start" fill="#000">PfMADS4</text>
<text transform="translate(2213.72 1658.41) rotate(17.33)" y="16.83" text-anchor="start" fill="#000">PfMADS7</text>
<text transform="translate(2169.95 1774.66) rotate(23.93)" y="16.83" text-anchor="start" fill="#000">PfMADS9</text>
<text transform="translate(2149.17 1818.78) rotate(26.52)" y="16.83" text-anchor="start" fill="#000">PfMADS13</text>
<text transform="translate(1165.88 2422.85) rotate(270.94)" y="16.83" text-anchor="end" fill="#000">PfMADS34</text>
<text transform="translate(1077.33 2421.8) rotate(275.6)" y="16.83" text-anchor="end" fill="#000">PfMADS37</text>
<text transform="translate(1016.49 2417.13) rotate(278.8)" y="16.83" text-anchor="end" fill="#000">PfMADS38</text>
<text transform="translate(894.76 2383.86) rotate(285.43)" y="16.83" text-anchor="end" fill="#000">PfMADS39</text>
<text transform="translate(754.48 2343.28) rotate(293.1)" y="16.83" text-anchor="end" fill="#000">PfMADS43</text>
<text transform="translate(707.63 2313.09) rotate(296)" y="16.83" text-anchor="end" fill="#000">PfMADS44</text>
<text transform="translate(500.26 2180.98) rotate(309)" y="16.83" text-anchor="end" fill="#000">PfMADS47</text>
<text transform="translate(454.91 2142.15) rotate(312.15)" y="16.83" text-anchor="end" fill="#000">PfMADS48</text>
<text transform="translate(257.44 770.05) rotate(391.47)" y="16.83" text-anchor="end" fill="#000">PfMADS62</text>
<text transform="translate(463.39 524.26) rotate(408.45)" y="16.83" text-anchor="end" fill="#000">PfMADS68</text>
<text transform="translate(512.7 483.09) rotate(411.84)" y="16.83" text-anchor="end" fill="#000">PfMADS70</text>
<text transform="translate(593.02 425.69) rotate(417.05)" y="16.83" text-anchor="end" fill="#000">PfMADS71</text>
<text transform="translate(654.71 388.54) rotate(420.85)" y="16.83" text-anchor="end" fill="#000">PfMADS72</text>
<text transform="translate(864.37 299.01) rotate(432.9)" y="16.83" text-anchor="end" fill="#000">PfMADS81</text>
<text transform="translate(1362.9 272.98) rotate(279.56)" y="16.83" text-anchor="start" fill="#000">PfMADS84</text>
<text transform="translate(1484.55 300.79) rotate(286.19)" y="16.83" text-anchor="start" fill="#ff3030">AGL65</text>
<text transform="translate(1527.32 314.18) rotate(288.57)" y="16.83" text-anchor="start" fill="#ff3030">CAL</text>
<text transform="translate(1627.04 341.24) rotate(294)" y="16.83" text-anchor="start" fill="#ff3030">AP1</text>
<text transform="translate(1656.95 377.35) rotate(296.25)" y="16.83" text-anchor="start" fill="#ff3030">AGL94</text>
<text transform="translate(1701.53 390.38) rotate(298.68)" y="16.83" text-anchor="start" fill="#ff3030">AGL12</text>
<text transform="translate(1740.56 412.8) rotate(301.07)" y="16.83" text-anchor="start" fill="#ff3030">AGL30</text>
<text transform="translate(1777.26 429.95) rotate(303.2)" y="16.83" text-anchor="start" fill="#ff3030">AGL3</text>
<text transform="translate(1811.64 453.4) rotate(305.4)" y="16.83" text-anchor="start" fill="#ff3030">ANR1</text>
<text transform="translate(1839.66 480.28) rotate(307.44)" y="16.83" text-anchor="start" fill="#ff3030">AGL95</text>
<text transform="translate(1865.66 500.83) rotate(309.2)" y="16.83" text-anchor="start" fill="#ff3030">AGL6</text>
<text transform="translate(1900.22 530.25) rotate(311.61)" y="16.83" text-anchor="start" fill="#ff3030">SHP2</text>
<text transform="translate(1931.25 549.24) rotate(313.5)" y="16.83" text-anchor="start" fill="#ff3030">SCO1</text>
<text transform="translate(1972.83 601.12) rotate(317)" y="16.83" text-anchor="start" fill="#ff3030">AGL45</text>
<text transform="translate(2024.84 661.19) rotate(321.22)" y="16.83" text-anchor="start" fill="#ff3030">AGL79</text>
<text transform="translate(2053.85 698.98) rotate(323.75)" y="16.83" text-anchor="start" fill="#ff3030">AGL18</text>
<text transform="translate(2077.7 732.85) rotate(325.95)" y="16.83" text-anchor="start" fill="#ff3030">SHP1</text>
<text transform="translate(2100.34 767.77) rotate(328.16)" y="16.83" text-anchor="start" fill="#ff3030">AGL13</text>
<text transform="translate(2145.1 847.14) rotate(333)" y="16.83" text-anchor="start" fill="#ff3030">AGL14</text>
<text transform="translate(2160.57 878.78) rotate(334.87)" y="16.83" text-anchor="start" fill="#ff3030">AG</text>
<text transform="translate(2180.57 924.08) rotate(337.5)" y="16.83" text-anchor="start" fill="#ff3030">AGL19</text>
<text transform="translate(2230.05 1073.59) rotate(345.87)" y="16.83" text-anchor="start" fill="#ff3030">SEP1</text>
<text transform="translate(2257.06 1226.84) rotate(354.14)" y="16.83" text-anchor="start" fill="#ff3030">FUL</text>
</g>
<text x="86.5" y="224" font-family="'Liberation Sans',Arial,sans-serif" font-size="124.7" fill="#000">b</text>
</svg>
</body></html>
